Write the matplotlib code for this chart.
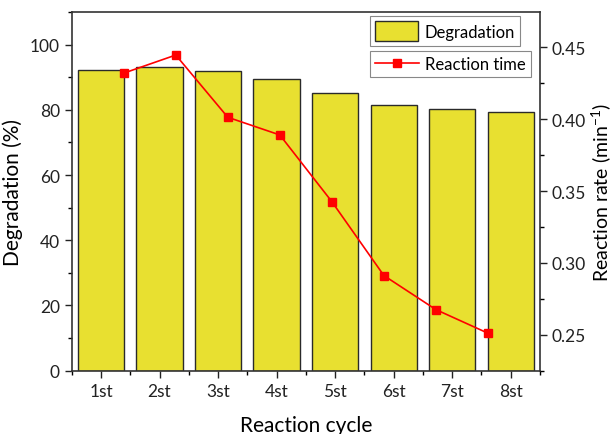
import numpy as np
import matplotlib
matplotlib.use("Agg")
import matplotlib.pyplot as plt
from matplotlib.ticker import MultipleLocator, FixedLocator

plt.rcParams['font.family'] = ['Lato', 'DejaVu Sans']
plt.rcParams['mathtext.fontset'] = 'custom'
plt.rcParams['mathtext.rm'] = 'Lato'
plt.rcParams['mathtext.default'] = 'regular'

cycles = ["1st", "2st", "3st", "4st", "5st", "6st", "7st", "8st"]
degradation = [92.3, 93.0, 92.0, 89.5, 85.2, 81.6, 80.2, 79.3]
reaction_rate = [0.432, 0.4446, 0.4013, 0.389, 0.3426, 0.2912, 0.2675, 0.2511]

bar_color = "#E8E030"
rect = [0.1166, 0.1455, 0.7614, 0.8245]

fig = plt.figure(figsize=(6.15, 4.35), dpi=100)
ax = fig.add_axes(rect)
x = np.arange(1, len(cycles) + 1)
bars = ax.bar(x, degradation, width=0.79, color=bar_color,
              edgecolor="#2a2a2a", linewidth=1.0, zorder=2)
ax.set_xlim(0.5, 8.5)
ax.set_ylim(0, 110)
ax.set_xticks(x)
ax.set_xticklabels(cycles)
ax.xaxis.set_minor_locator(FixedLocator(np.arange(0.5, 9.0, 1.0)))
ax.yaxis.set_major_locator(MultipleLocator(20))
ax.yaxis.set_minor_locator(MultipleLocator(10))
ax.tick_params(axis="both", which="major", direction="out", length=5,
               width=1, labelsize=12.5, colors="#222222")
ax.tick_params(axis="both", which="minor", direction="out", length=3, width=1)
ax.tick_params(axis="y", right=False)
for s in ax.spines.values():
    s.set_linewidth(1.2)
    s.set_color("#333333")
ax.set_xlabel("Reaction cycle", fontsize=15, labelpad=12)
ax.set_ylabel("Degradation (%)", fontsize=15, labelpad=5)

# Rate series on its own overlaid axes with the scale on the right
ax2 = fig.add_axes(rect, label="rate")
ax2.patch.set_visible(False)
for s in ax2.spines.values():
    s.set_visible(False)
ax2.xaxis.set_visible(False)
line, = ax2.plot(np.arange(1, len(reaction_rate) + 1), reaction_rate,
                 color="red", linewidth=1.2, marker="s", markersize=5.5,
                 markerfacecolor="red", markeredgecolor="red")
ax2.set_xlim(0, 9)
ax2.set_ylim(0.225, 0.4745)
ax2.yaxis.tick_right()
ax2.yaxis.set_label_position("right")
ax2.yaxis.set_major_locator(MultipleLocator(0.05))
ax2.yaxis.set_minor_locator(MultipleLocator(0.025))
ax2.yaxis.set_major_formatter(plt.FormatStrFormatter("%.2f"))
ax2.tick_params(axis="y", which="major", direction="out", length=5, width=1,
                labelsize=12.5, colors="#222222")
ax2.tick_params(axis="y", which="minor", direction="out", length=3, width=1)
ax2.set_ylabel("Reaction rate (min$^{-1}$)", fontsize=14, labelpad=2)

leg_kw = dict(fontsize=12, frameon=True, fancybox=False, framealpha=1,
              edgecolor="#888888", borderaxespad=0, borderpad=0.3,
              handletextpad=0.4, bbox_transform=fig.transFigure,
              loc="upper right")
leg1 = ax2.legend([bars], ["Degradation"], handlelength=2.6, handleheight=1.5,
                  bbox_to_anchor=(520 / 615, 1 - 17 / 435), **leg_kw)
leg1.get_frame().set_linewidth(0.8)
ax2.add_artist(leg1)
leg2 = ax2.legend([line], ["Reaction time"], handlelength=2.6,
                  bbox_to_anchor=(531 / 615, 1 - 52 / 435), **leg_kw)
leg2.get_frame().set_linewidth(0.8)

fig.savefig("out.png", dpi=100)
